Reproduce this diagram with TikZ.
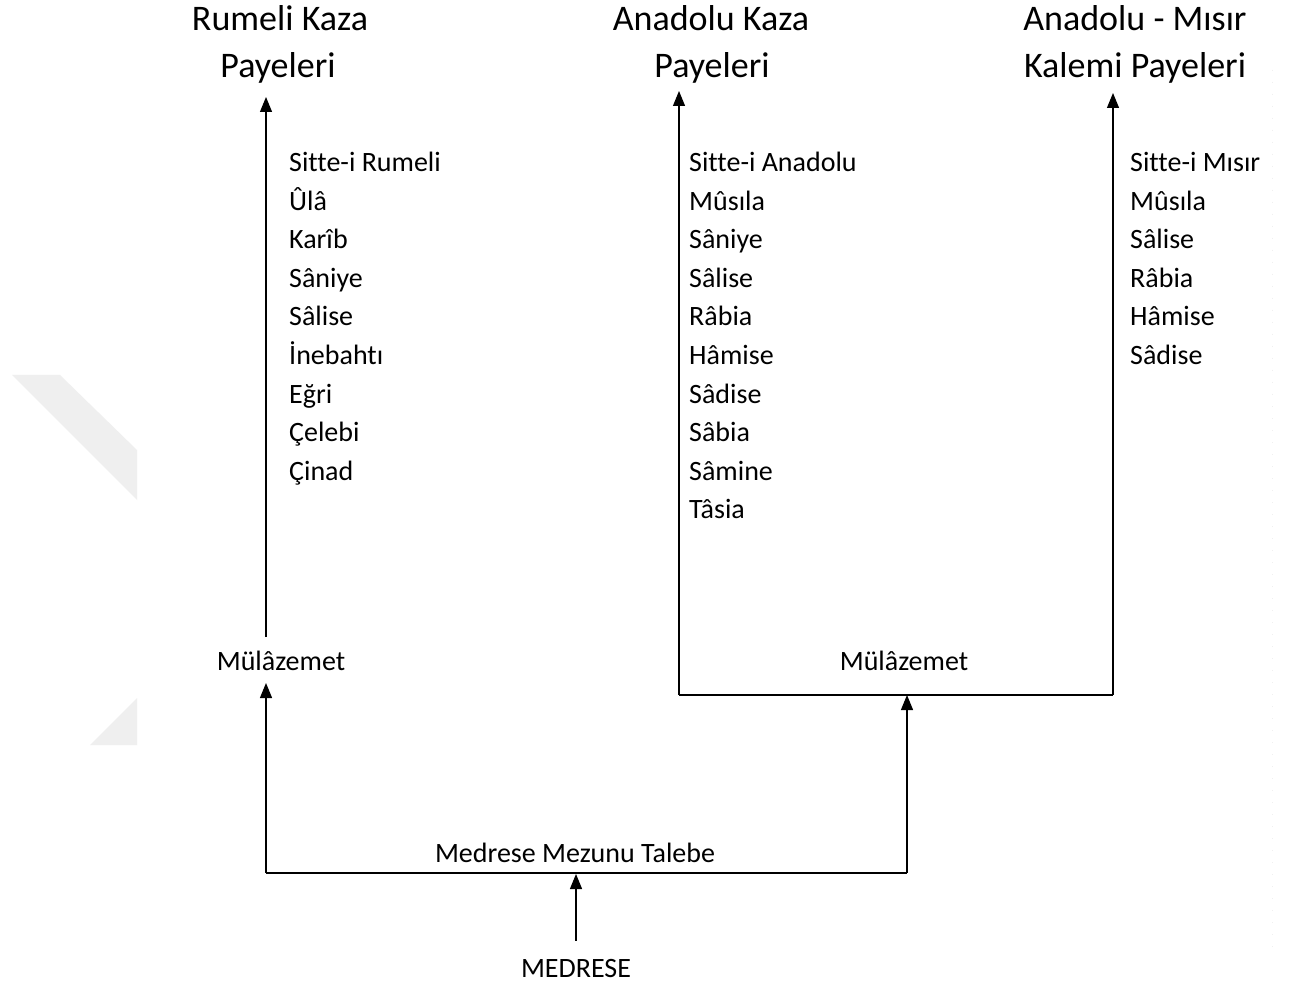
\documentclass[tikz,border=0pt]{standalone}
\usepackage{fontspec}
\setmainfont{Carlito}[Ligatures={NoCommon}]
\usetikzlibrary{arrows.meta}
\definecolor{wmgray}{HTML}{EFEFEF}
\begin{document}
\begin{tikzpicture}[x=1pt,y=-1pt,
  title/.style={font=\fontsize{36}{43}\selectfont, inner sep=0pt, anchor=base},
  item/.style={font=\fontsize{28}{34}\selectfont, inner sep=0pt, anchor=base west},
  lbl/.style={font=\fontsize{28}{34}\selectfont, inner sep=0pt, anchor=base},
  conn/.style={line width=1.2pt, line join=miter},
  arr/.style={conn, -{Triangle[length=15pt,width=12pt]}}]
\useasboundingbox (0,0) rectangle (1294,984);
\fill[white] (0,0) rectangle (1294,984);
% faint watermark
\fill[wmgray] (12,375) -- (60,375) -- (137,450) -- (137,500) -- cycle;
\fill[wmgray] (137,698) -- (137,745) -- (90,745) -- cycle;
\draw[gray!12, line width=0.8pt, dash pattern=on 1pt off 11pt] (1272,70) -- (1272,950);

% titles
\node[title] (t1a) at (280,31) {Rumeli Kaza};
\node[title] (t1b) at (278,78) {Payeleri};
\node[title] (t2a) at (711,31) {Anadolu Kaza};
\node[title] (t2b) at (712,78) {Payeleri};
\node[title] (t3a) at (1135,31) {Anadolu - Mısır};
\node[title] (t3b) at (1135,78) {Kalemi Payeleri};

% lists
\foreach \t [count=\i from 0] in {Sitte-i Rumeli,Ûlâ,Karîb,Sâniye,Sâlise,İnebahtı,Eğri,Çelebi,Çinad}
  \node[item] (r\i) at (289,172+38.5*\i) {\t};
\foreach \t [count=\i from 0] in {Sitte-i Anadolu,Mûsıla,Sâniye,Sâlise,Râbia,Hâmise,Sâdise,Sâbia,Sâmine,Tâsia}
  \node[item] (a\i) at (689,172+38.5*\i) {\t};
\foreach \t [count=\i from 0] in {Sitte-i Mısır,Mûsıla,Sâlise,Râbia,Hâmise,Sâdise}
  \node[item] (m\i) at (1130,172+38.5*\i) {\t};

% labels
\node[lbl] (mulL) at (281,670) {Mülâzemet};
\node[lbl] (mulR) at (904,670) {Mülâzemet};
\node[lbl] (talebe) at (575,862) {Medrese Mezunu Talebe};
\node[lbl] (medrese) at (576,977) {MEDRESE};

% coordinates
\coordinate (tipR) at (266,97);
\coordinate (baseR) at (266,637);
\coordinate (tipA) at (679,91);
\coordinate (tipM) at (1113,93);
\coordinate (brL) at (679,695);
\coordinate (brR) at (1113,695);
\coordinate (brM) at (907,695);
\coordinate (jL) at (266,873);
\coordinate (jR) at (907,873);
\coordinate (jM) at (576,874);
\coordinate (tipML) at (266,683);

% connectors
\draw[arr] (baseR) -- (tipR);
\draw[conn] (brL) -- (brR);
\draw[arr] (brL) -- (tipA);
\draw[arr] (brR) -- (tipM);
\draw[conn] (jL) -- (jR);
\draw[arr] (jL) -- (tipML);
\draw[arr] (jR) -- (brM);
\draw[arr] ([yshift=18pt]medrese.north) -- (jM);
\end{tikzpicture}
\end{document}
